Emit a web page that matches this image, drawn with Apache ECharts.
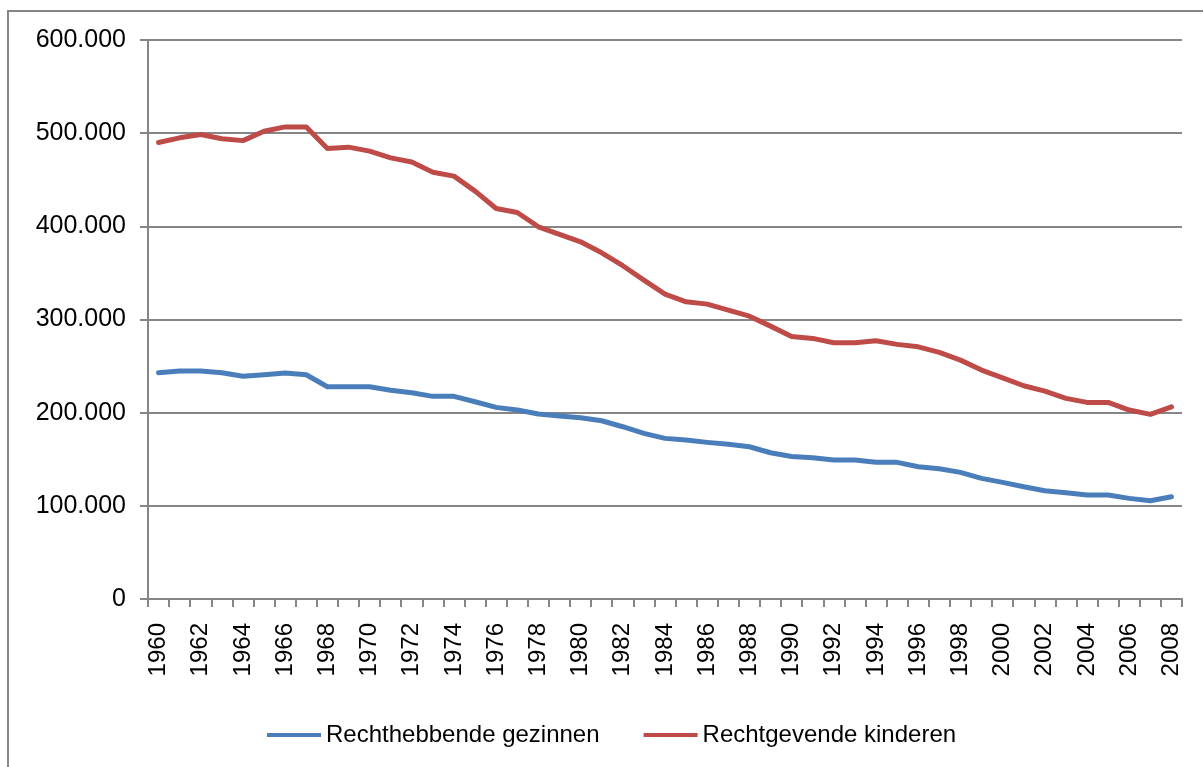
<!DOCTYPE html>
<html>
<head>
<meta charset="utf-8">
<script src="https://cdn.jsdelivr.net/npm/echarts@6/dist/echarts.min.js"></script>
<style>
    html, body { margin: 0; padding: 0; background: #fff; }
    #chart { width: 1203px; height: 767px; }
</style>
</head>
<body>
<div id="chart"></div>
<script>
// jaren
const years = []
for (let y = 1960; y <= 2008; y++) years.push(String(y))

const gezinnen = [
    242800, 244600, 244600, 242800, 239000, 240700, 242500, 240700, 227800, 227800,
    227800, 224000, 221400, 217500, 217500, 211700, 205700, 202800, 198500, 196400,
    194500, 191300, 184900, 177800, 172400, 170600, 168100, 166000, 163400, 157000,
    153000, 151600, 149100, 149100, 146700, 146700, 142000, 139800, 135900, 129500,
    125200, 120500, 116200, 114000, 111600, 111600, 108000, 105500, 109800
]

const kinderen = [
    490000, 495000, 498600, 494000, 492000, 502000, 506700, 506700, 483600, 485000,
    480700, 473500, 469000, 458000, 453900, 437800, 419200, 414900, 399500, 391300,
    383400, 371600, 357700, 342300, 327300, 319000, 316500, 310000, 303600, 292900,
    281800, 279700, 275000, 275000, 277100, 273300, 270700, 264700, 256400, 245700,
    237400, 228900, 223200, 215300, 211000, 211000, 202800, 198200, 206300
]

const seriesNames = ['Rechthebbende gezinnen', 'Rechtgevende kinderen']
const seriesColors = ['#4A7EBB', '#BE4B48']

const gray = '#868686'
const font = 'Liberation Sans, Arial, sans-serif'

const fmt = (v) => {
    if (v === 0) return '0'
    return String(v).replace(/\B(?=(\d{3})+(?!\d))/g, '.')
}

const chart = echarts.init(document.getElementById('chart'))

chart.setOption({
    animation: false,
    graphic: [{
        type: 'rect',
        shape: { x: 8, y: 11, width: 1210, height: 780 },
        style: { fill: 'none', stroke: gray, lineWidth: 2 },
        silent: true
    }],
    grid: {
        left: 148,
        right: 21,
        top: 40,
        bottom: 168
    },
    legend: {
        data: seriesNames,
        left: 262,
        top: 718,
        itemWidth: 54,
        itemHeight: 4,
        itemGap: 44,
        icon: 'rect',
        textStyle: { fontSize: 24, fontFamily: font, color: '#000', padding: [0, 0, 0, 0] }
    },
    xAxis: {
        type: 'category',
        data: years,
        boundaryGap: true,
        axisLine: { lineStyle: { color: gray, width: 2 } },
        axisTick: { show: true, interval: 0, length: 8, lineStyle: { color: gray, width: 2 } },
        axisLabel: {
            rotate: 90,
            interval: 1,
            margin: 24,
            fontSize: 24,
            fontFamily: font,
            color: '#000'
        },
        splitLine: { show: false }
    },
    yAxis: {
        type: 'value',
        min: 0,
        max: 600000,
        interval: 100000,
        axisLine: { show: true, lineStyle: { color: gray, width: 2 } },
        axisTick: { show: true, length: 8, lineStyle: { color: gray, width: 2 } },
        axisLabel: {
            margin: 22,
            fontSize: 25,
            fontFamily: font,
            color: '#000',
            formatter: fmt
        },
        splitLine: { show: true, lineStyle: { color: gray, width: 2 } }
    },
    series: [
        {
            name: seriesNames[0],
            type: 'line',
            data: gezinnen,
            symbol: 'none',
            color: seriesColors[0],
            lineStyle: { width: 5, cap: 'round', join: 'round' }
        },
        {
            name: seriesNames[1],
            type: 'line',
            data: kinderen,
            symbol: 'none',
            color: seriesColors[1],
            lineStyle: { width: 5, cap: 'round', join: 'round' }
        }
    ]
})
</script>
</body>
</html>
